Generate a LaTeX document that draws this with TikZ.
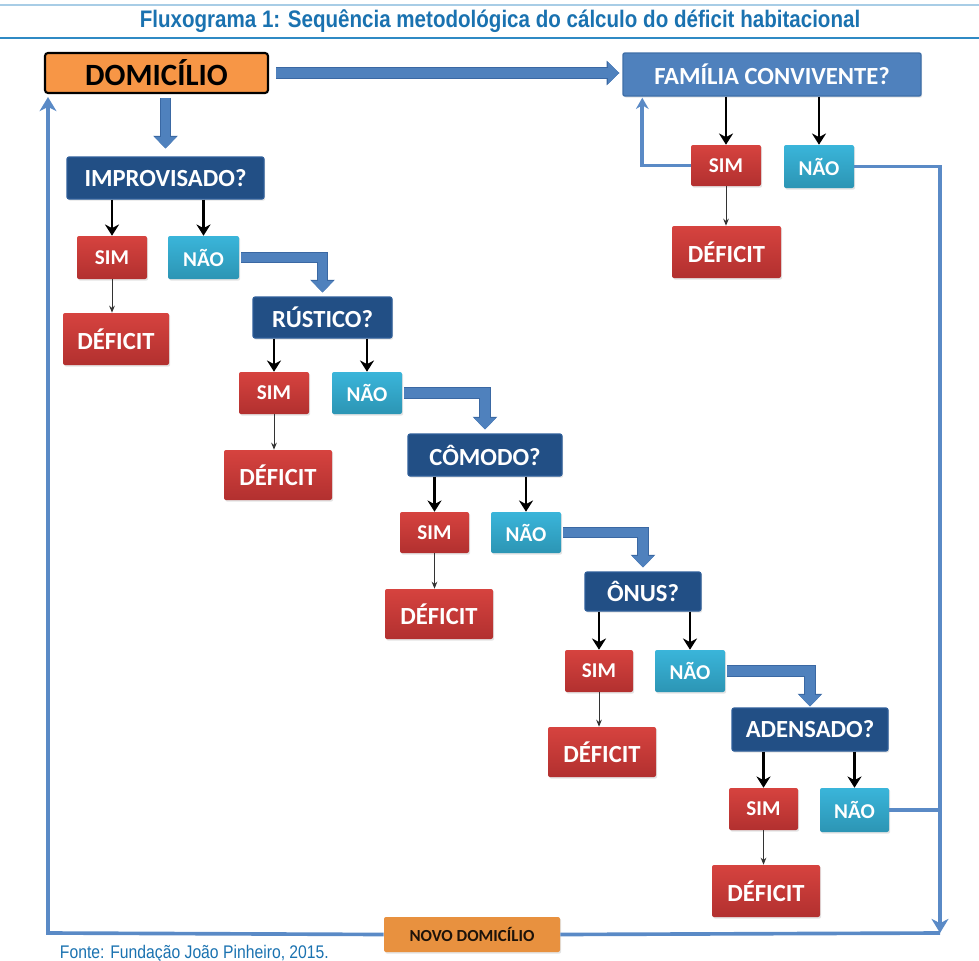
\documentclass[tikz,border=0pt]{standalone}
\usepackage{fontspec}
\setmainfont{Carlito}
\newfontfamily\titlefont[FakeStretch=0.86]{Liberation Sans}
\usetikzlibrary{arrows.meta,calc,shadows}
\newlength{\pxu}\setlength{\pxu}{0.025cm}
\definecolor{titleblue}{HTML}{1A72B0}
\definecolor{lineblue}{HTML}{2F8AC4}
\definecolor{paleblue}{HTML}{A8CDE6}
\definecolor{qblue}{HTML}{224F85}
\definecolor{qedge}{HTML}{2E5E99}
\definecolor{famblue}{HTML}{4F81BD}
\definecolor{famedge}{HTML}{3F6FA8}
\definecolor{simtop}{HTML}{D6433F}
\definecolor{simbot}{HTML}{B2302F}
\definecolor{naotop}{HTML}{3AB5DA}
\definecolor{naobot}{HTML}{2C95B4}
\definecolor{domorange}{HTML}{F79646}
\definecolor{novoorange}{HTML}{E8913F}
\definecolor{fatblue}{HTML}{4F81BD}
\definecolor{fatedge}{HTML}{3A68A3}
\definecolor{loopblue}{HTML}{5A8AC6}
\tikzset{
  box/.style={rounded corners=2\pxu, inner sep=0pt, text=white,
    drop shadow={opacity=0.22, shadow xshift=1.2\pxu, shadow yshift=-1.6\pxu}},
  qbox/.style={box, fill=qblue, draw=qedge, line width=0.8pt,
    font=\bfseries\fontsize{17.5}{19}\selectfont},
  simbox/.style={box, top color=simtop, bottom color=simbot,
    font=\bfseries\fontsize{15}{17}\selectfont},
  naobox/.style={box, top color=naotop, bottom color=naobot,
    font=\bfseries\fontsize{15}{17}\selectfont},
  defbox/.style={box, top color=simtop, bottom color=simbot,
    font=\bfseries\fontsize{17.5}{19}\selectfont},
  fatarrow/.style={draw=fatblue, line width=7pt, -{Triangle[length=8pt,width=15pt]},
    preaction={draw=fatedge, line width=8.4pt, -{Triangle[length=9pt,width=17pt]}}},
  yesno/.style={draw=black, line width=2.1pt, -{Stealth[length=8pt,width=10pt]}},
  thinarrow/.style={draw=black!80, line width=0.7pt, -{Stealth[length=5pt,width=4pt]}},
  loopline/.style={draw=loopblue, line width=2.6pt},
  loopend/.style={-{Stealth[length=10pt,width=12pt,inset=3pt]}}
}
\begin{document}
\begin{tikzpicture}[x=\pxu, y=-\pxu]
  \useasboundingbox (0,0) rectangle (979,960);

  % title
  \draw[paleblue, line width=1.4pt] (0,5) -- (979,5);
  \draw[lineblue, line width=1.4pt] (0,38) -- (979,38);
  \node[text=titleblue, font=\titlefont\bfseries\fontsize{17}{19}\selectfont] (title) at (500,21)
    {Fluxograma 1: Sequência metodológica do cálculo do déficit habitacional};

  % main boxes
  \node[rounded corners=3\pxu, fill=domorange, draw=black, line width=1.5pt,
    minimum width=223\pxu, minimum height=40\pxu, inner sep=0pt,
    font=\bfseries\fontsize{22}{24}\selectfont] (dom) at (156.5,73) {DOMICÍLIO};
  \node[box, fill=famblue, draw=famedge, line width=1pt, minimum width=298\pxu, minimum height=43\pxu,
    font=\bfseries\fontsize{17.5}{19}\selectfont] (fam) at (772,74.5) {FAMÍLIA CONVIVENTE?};

  % familia convivente
  \node[simbox, minimum width=70\pxu, minimum height=41\pxu] (famsim) at (726,165.5) {SIM};
  \node[naobox, minimum width=70\pxu, minimum height=43\pxu] (famnao) at (819,166.5) {NÃO};
  \node[defbox, minimum width=109\pxu, minimum height=52\pxu] (famdef) at (726.5,252) {DÉFICIT};

  % improvisado
  \node[qbox, minimum width=197\pxu, minimum height=42\pxu] (imp) at (165.5,178) {IMPROVISADO?};
  \node[simbox, minimum width=70\pxu, minimum height=43\pxu] (sim1) at (112,257.5) {SIM};
  \node[naobox, minimum width=71\pxu, minimum height=43\pxu] (nao1) at (203.5,257.5) {NÃO};
  \node[defbox, minimum width=106\pxu, minimum height=52\pxu] (def1) at (116,339) {DÉFICIT};

  % rustico
  \node[qbox, minimum width=139\pxu, minimum height=41\pxu] (rus) at (322.5,317.5) {RÚSTICO?};
  \node[simbox, minimum width=70\pxu, minimum height=42\pxu] (sim2) at (274,393) {SIM};
  \node[naobox, minimum width=70\pxu, minimum height=42\pxu] (nao2) at (367,393) {NÃO};
  \node[defbox, minimum width=108\pxu, minimum height=50\pxu] (def2) at (278,475) {DÉFICIT};

  % comodo
  \node[qbox, minimum width=154\pxu, minimum height=42\pxu] (com) at (485,455) {CÔMODO?};
  \node[simbox, minimum width=69\pxu, minimum height=41\pxu] (sim3) at (434.5,532.5) {SIM};
  \node[naobox, minimum width=70\pxu, minimum height=41\pxu] (nao3) at (526,532.5) {NÃO};
  \node[defbox, minimum width=108\pxu, minimum height=50\pxu] (def3) at (439,614) {DÉFICIT};

  % onus
  \node[qbox, minimum width=116\pxu, minimum height=39\pxu] (onus) at (643,591.5) {ÔNUS?};
  \node[simbox, minimum width=68\pxu, minimum height=42\pxu] (sim4) at (599,671) {SIM};
  \node[naobox, minimum width=70\pxu, minimum height=42\pxu] (nao4) at (690,671) {NÃO};
  \node[defbox, minimum width=108\pxu, minimum height=50\pxu] (def4) at (602,752) {DÉFICIT};

  % adensado
  \node[qbox, minimum width=156\pxu, minimum height=43\pxu] (ade) at (810,729.5) {ADENSADO?};
  \node[simbox, minimum width=69\pxu, minimum height=42\pxu] (sim5) at (763.5,809) {SIM};
  \node[naobox, minimum width=69\pxu, minimum height=44\pxu] (nao5) at (854.5,810) {NÃO};
  \node[defbox, minimum width=108\pxu, minimum height=52\pxu] (def5) at (766,891) {DÉFICIT};

  % novo domicilio
  \node[box, fill=novoorange, text=black!85!brown, minimum width=176\pxu, minimum height=35\pxu,
    font=\bfseries\fontsize{12}{14}\selectfont] (novo) at (472,934.5) {NOVO DOMICÍLIO};

  \node[anchor=base west, text=titleblue, font=\titlefont\fontsize{13}{15}\selectfont] (fonte) at (55,958)
    {Fonte: Fundação João Pinheiro, 2015.};

  % fat arrows
  \draw[fatarrow, shorten <=7\pxu, shorten >=3\pxu] (dom.east) -- (dom.east -| fam.west);
  \draw[fatarrow, shorten <=4\pxu, shorten >=8\pxu] (dom.south -| imp.north) -- (imp.north);
  \draw[fatarrow, shorten <=2\pxu, shorten >=4\pxu] (nao1.east) -| (rus.north);
  \draw[fatarrow, shorten <=2\pxu, shorten >=4\pxu] (nao2.east) -| (com.north);
  \draw[fatarrow, shorten <=2\pxu, shorten >=4\pxu] (nao3.east) -| (onus.north);
  \draw[fatarrow, shorten <=2\pxu, shorten >=1\pxu] (nao4.east) -| (ade.north);

  % sim / nao
  \foreach \q/\s/\n in {fam/famsim/famnao, imp/sim1/nao1, rus/sim2/nao2, com/sim3/nao3, onus/sim4/nao4, ade/sim5/nao5}{
    \draw[yesno] (\s.north |- \q.south) -- (\s.north);
    \draw[yesno] (\n.north |- \q.south) -- (\n.north);
  }
  \foreach \s/\d in {famsim/famdef, sim1/def1, sim2/def2, sim3/def3, sim4/def4, sim5/def5}
    \draw[thinarrow] (\s.south) -- (\s.south |- \d.north);

  % loop
  \coordinate (cr) at (940,933);
  \coordinate (cl) at (48,933);
  \draw[loopline, loopend] (famnao.east) -| (cr);
  \draw[loopline] (nao5.east) -- (nao5.east -| cr);
  \draw[loopline] (cr) -- (novo.east);
  \draw[loopline, loopend, shorten >=3\pxu] (novo.west) -- (cl) -- (cl |- dom.south);
  \draw[loopline, -{Stealth[length=8pt,width=9pt]}, shorten >=1\pxu] (famsim.west) -| ($(fam.south west)+(20,0)$);
\end{tikzpicture}
\end{document}
